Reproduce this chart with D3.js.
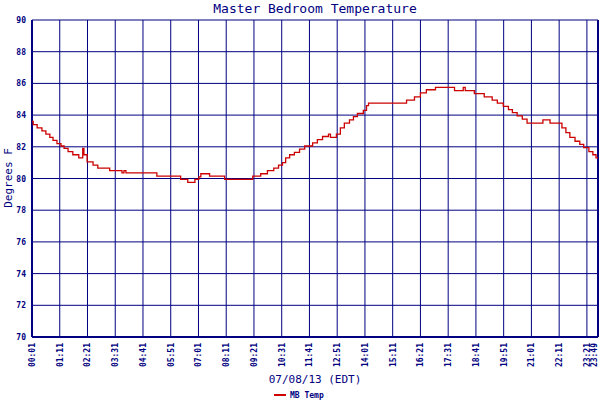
<!DOCTYPE html><html><head><script src="https://cdn.jsdelivr.net/npm/d3@7"></script>
<style>body{margin:0;background:#fff}</style></head><body><svg id="c" width="600" height="400"></svg>
<script>
const minutes=[1,4,14,26,36,46,54,64,74,82,92,104,119,129,132,140,155,167,197,228,233,238,316,376,394,412,422,427,449,487,558,578,595,611,623,633,641,651,663,676,689,709,721,734,749,754,769,779,789,802,812,822,837,845,850,946,966,981,996,1019,1067,1089,1094,1117,1142,1162,1175,1190,1203,1213,1225,1238,1250,1290,1308,1338,1348,1358,1371,1383,1393,1406,1416,1424,1429];
const temps=[83.6,83.4,83.2,83.0,82.8,82.6,82.4,82.2,82.05,81.9,81.7,81.5,81.3,81.9,81.5,81.05,80.85,80.65,80.5,80.35,80.5,80.35,80.15,79.95,79.75,79.95,80.1,80.3,80.15,79.95,80.15,80.3,80.5,80.65,80.85,81.0,81.3,81.5,81.65,81.85,82.05,82.25,82.45,82.65,82.8,82.6,82.8,83.2,83.5,83.7,83.9,84.1,84.3,84.6,84.75,84.95,85.15,85.4,85.6,85.75,85.55,85.75,85.55,85.35,85.15,84.95,84.75,84.55,84.35,84.15,83.95,83.75,83.5,83.7,83.5,83.2,82.9,82.6,82.35,82.15,81.95,81.7,81.5,81.3,81.3];
const tickLabels=["00:01","01:11","02:21","03:31","04:41","05:51","07:01","08:11","09:21","10:31","11:41","12:51","14:01","15:11","16:21","17:31","18:41","19:51","21:01","22:11","23:21","23:49"];
const yTicks=[70,72,74,76,78,80,82,84,86,88,90];
const navy="#000080";
const svg=d3.select("#c");
const x=d3.scaleLinear().domain([1,1429]).range([32,598]);
const y=d3.scaleLinear().domain([70,90]).range([337,20]);
const toMin=s=>+s.slice(0,2)*60+ +s.slice(3);
const g=svg.append("g");
tickLabels.forEach((t,i)=>{const xv=x(toMin(t));
 g.append("line").attr("x1",xv).attr("x2",xv).attr("y1",20).attr("y2",337).attr("stroke",navy).attr("stroke-width",1);
 const lx=i===tickLabels.length-1?xv-1:xv+3;
 g.append("text").attr("transform",`translate(${lx},${343}) rotate(-90)`).attr("text-anchor","end")
  .attr("font-family","DejaVu Sans Mono").attr("font-size",8).attr("font-weight","bold").attr("fill",navy).text(t);});
yTicks.forEach(v=>{g.append("line").attr("x1",32).attr("x2",598).attr("y1",y(v)).attr("y2",y(v)).attr("stroke",navy);
 g.append("text").attr("x",26).attr("y",y(v)+3).attr("text-anchor","end").attr("font-family","DejaVu Sans Mono")
  .attr("font-size",8).attr("font-weight","bold").attr("fill",navy).text(v);});
g.append("line").attr("x1",32).attr("x2",32).attr("y1",20).attr("y2",337).attr("stroke",navy).attr("stroke-width",2);
g.append("line").attr("x1",598).attr("x2",598).attr("y1",20).attr("y2",337).attr("stroke",navy).attr("stroke-width",2);
g.append("line").attr("x1",32).attr("x2",598).attr("y1",337).attr("y2",337).attr("stroke",navy).attr("stroke-width",2);
const data=minutes.map((m,i)=>[m,temps[i]]);
svg.append("path").datum(data).attr("fill","none").attr("stroke","#cc0000").attr("stroke-width",1.3)
 .attr("d",d3.line().x(d=>x(d[0])).y(d=>y(d[1])).curve(d3.curveStepAfter));
svg.append("text").attr("x",315).attr("y",13).attr("text-anchor","middle").attr("font-family","DejaVu Sans Mono").attr("font-size",13).attr("fill",navy).text("Master Bedroom Temperature");
svg.append("text").attr("x",315).attr("y",383).attr("text-anchor","middle").attr("font-family","DejaVu Sans Mono").attr("font-size",11).attr("fill",navy).text("07/08/13 (EDT)");
svg.append("text").attr("transform","translate(12,178) rotate(-90)").attr("text-anchor","middle").attr("font-family","DejaVu Sans Mono").attr("font-size",11).attr("fill",navy).text("Degrees F");
svg.append("line").attr("x1",274).attr("x2",286).attr("y1",395).attr("y2",395).attr("stroke","#cc0000").attr("stroke-width",2);
svg.append("text").attr("x",290).attr("y",398).attr("font-family","DejaVu Sans Mono").attr("font-size",8).attr("font-weight","bold").attr("fill",navy).text("MB Temp");
</script></body></html>
